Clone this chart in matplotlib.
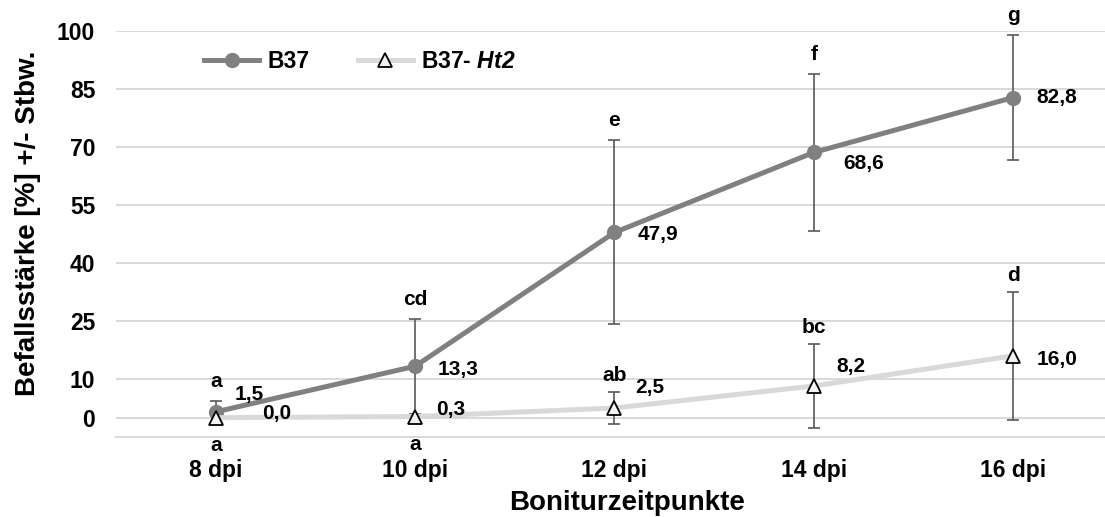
import matplotlib
matplotlib.use("Agg")
import matplotlib.pyplot as plt
import numpy as np

plt.rcParams['font.family'] = ['Liberation Sans', 'DejaVu Sans']
plt.rcParams['font.weight'] = 'bold'
plt.rcParams['mathtext.fontset'] = 'custom'
plt.rcParams['mathtext.bfit'] = 'Liberation Sans:italic:bold'
plt.rcParams['mathtext.rm'] = 'Liberation Sans:bold'

# Befallsstaerke (Mittelwert und Standardabweichung) je Boniturzeitpunkt
timepoints = ["8 dpi", "10 dpi", "12 dpi", "14 dpi", "16 dpi"]
b37_mean = [1.5, 13.3, 47.9, 68.6, 82.8]
b37_sd = [2.7, 12.3, 23.8, 20.2, 16.2]
ht2_mean = [0.0, 0.3, 2.5, 8.2, 16.0]
ht2_sd = [0.0, 0.0, 4.1, 10.8, 16.5]
b37_letters = ["a", "cd", "e", "f", "g"]
ht2_letters = ["a", "a", "ab", "bc", "d"]

yticks = [0, 10, 25, 40, 55, 70, 85, 100]

W, H = 1105, 517
fig = plt.figure(figsize=(W / 100, H / 100), dpi=100)
ax = fig.add_axes([116 / W, 80 / H, (W - 116) / W, (437 - 31) / H])

x = np.arange(len(timepoints))
grid_col = "#d9d9d9"
err_col = "#595959"

# Fehlerbalken unter den Linien
for means, sds in ((b37_mean, b37_sd), (ht2_mean, ht2_sd)):
    idx = [i for i, s in enumerate(sds) if s > 0]
    ax.errorbar(x[idx], np.array(means)[idx], yerr=np.array(sds)[idx], fmt="none",
                ecolor=err_col, elinewidth=1.2, capsize=4.5, capthick=1.2, zorder=2)

ax.plot(x, b37_mean, color="#808080", linewidth=3.6, marker="o", markersize=10,
        markerfacecolor="#808080", markeredgecolor="#808080", label="B37", zorder=3)
ax.plot(x, ht2_mean, color=grid_col, linewidth=3.6, marker="^", markersize=10,
        markerfacecolor="#f2f2f2", markeredgecolor="black", markeredgewidth=1.3,
        label=r"B37- $\mathbfit{Ht2}$", zorder=4)

fmt = lambda v: f"{v:.1f}".replace(".", ",")
txt = dict(textcoords="offset points", fontsize=15, fontweight="bold", zorder=6)

# Wertebeschriftungen (Versatz in Pixeln)
b37_off = [(19, 17), (23, -3), (23, -2), (29, -11), (23, 0)]
ht2_off = [(46, 4), (21, 7), (21, 20), (22, 19), (23, -4)]
for i in x:
    ax.annotate(fmt(b37_mean[i]), (i, b37_mean[i]),
                xytext=(b37_off[i][0] * 0.72, b37_off[i][1] * 0.72),
                ha="left", va="center", **txt)
    ax.annotate(fmt(ht2_mean[i]), (i, ht2_mean[i]),
                xytext=(ht2_off[i][0] * 0.72, ht2_off[i][1] * 0.72),
                ha="left", va="center", **txt)

# Signifikanzbuchstaben
for i in x:
    ax.annotate(b37_letters[i], (i, b37_mean[i] + b37_sd[i]), xytext=(0, 14),
                ha="center", va="center", **txt)
    if ht2_sd[i] > 0:
        ax.annotate(ht2_letters[i], (i, ht2_mean[i] + ht2_sd[i]), xytext=(0, 12),
                    ha="center", va="center", **txt)
    else:
        ax.annotate(ht2_letters[i], (i, ht2_mean[i]), xytext=(0, -20),
                    ha="center", va="center", **txt)

ax.set_xlim(-0.5, 4.46)
ax.set_ylim(-5, 100)
ax.set_yticks(yticks)
ax.set_xticks(x)
ax.set_xticklabels(timepoints)
ax.tick_params(axis="both", length=0, labelsize=16.5)
ax.tick_params(axis="y", pad=15)
ax.tick_params(axis="x", pad=16)
ax.yaxis.grid(True, color=grid_col, linewidth=1.4)
ax.set_axisbelow(True)
for side in ("left", "right", "top"):
    ax.spines[side].set_visible(False)
ax.spines["bottom"].set_color(grid_col)
ax.spines["bottom"].set_linewidth(1.4)

ax.set_xlabel("Boniturzeitpunkte", fontsize=20, fontweight="bold", va="center")
ax.set_ylabel("Befallsstärke [%] +/- Stbw.", fontsize=20, fontweight="bold", va="center")
ax.xaxis.set_label_coords(0.517, -0.163)
ax.yaxis.set_label_coords(-0.089, 0.527)

fig.legend(loc="center left", bbox_to_anchor=(204 / W, 1 - 62 / H), ncol=2, frameon=False,
           fontsize=16.5, handlelength=2.4, handletextpad=0.36, columnspacing=2.1,
           borderpad=0, borderaxespad=0)

fig.savefig("out.png", dpi=100)
